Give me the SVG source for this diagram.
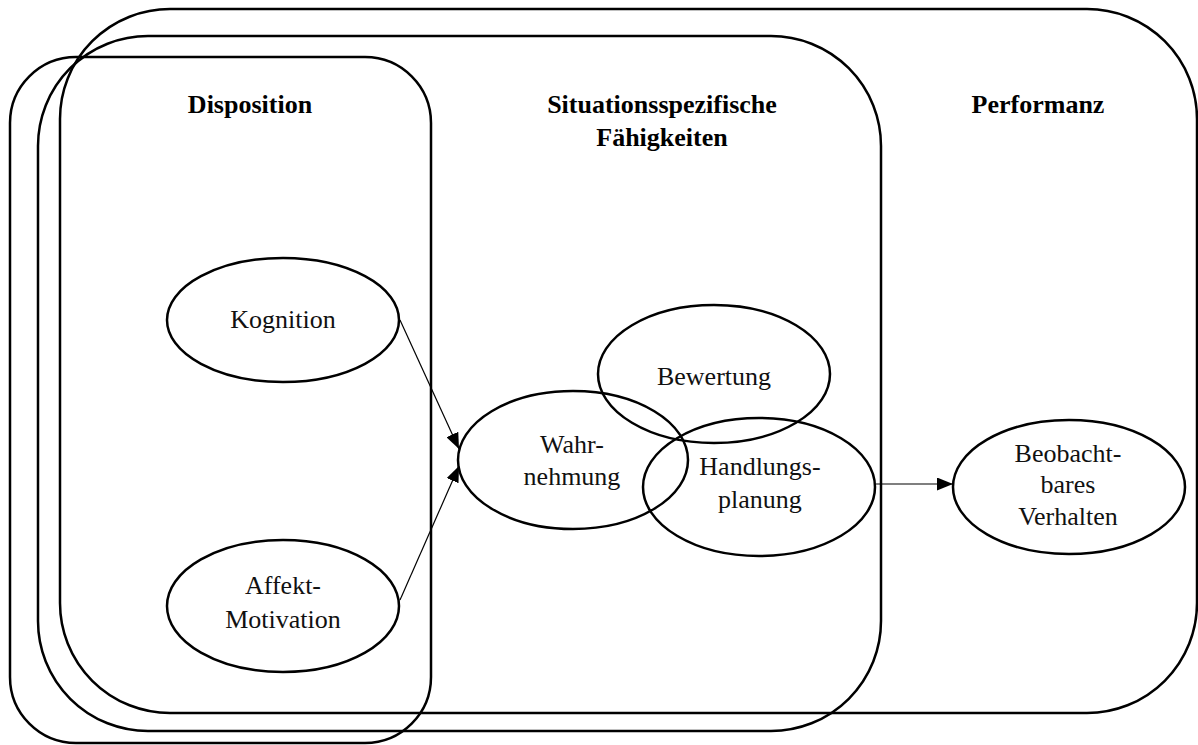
<svg xmlns="http://www.w3.org/2000/svg" width="1198" height="745" viewBox="0 0 1198 745">
<style>
.box{fill:none;stroke:#000;stroke-width:2.5}
.ell{fill:none;stroke:#000;stroke-width:2.5}
.t{font-family:"Liberation Serif","Times New Roman",serif;font-size:26px;fill:#111;text-anchor:middle}
.h{font-family:"Liberation Serif","Times New Roman",serif;font-size:26px;font-weight:bold;fill:#000;text-anchor:middle}
.c{fill:none;stroke:#000;stroke-width:1.2}
</style>
<defs>
<marker id="ah" viewBox="0 0 10 10" refX="10" refY="5" markerWidth="16" markerHeight="13" markerUnits="userSpaceOnUse" orient="auto" preserveAspectRatio="none">
<path d="M0,0 L10,5 L0,10 z" fill="#000"/>
</marker>
</defs>
<rect width="1198" height="745" fill="#fff"/>
<g id="performanz">
<rect class="box" x="60" y="9" width="1137" height="704" rx="110" ry="110"/>
<text class="h" x="1038" y="113">Performanz</text>
</g>
<g id="situation">
<rect class="box" x="38" y="36" width="843" height="695" rx="110" ry="110"/>
<text class="h" x="662" y="113">Situationsspezifische</text>
<text class="h" x="662" y="146">Fähigkeiten</text>
</g>
<g id="disposition">
<rect class="box" x="10" y="57" width="421" height="686" rx="66" ry="66"/>
<text class="h" x="250" y="113">Disposition</text>
</g>
<g id="kognition">
<ellipse class="ell" cx="283" cy="320" rx="116" ry="62"/>
<text class="t" x="283" y="328">Kognition</text>
</g>
<g id="affekt">
<ellipse class="ell" cx="283" cy="606" rx="116" ry="66"/>
<text class="t" x="283" y="594">Affekt-</text>
<text class="t" x="283" y="628">Motivation</text>
</g>
<g id="bewertung">
<ellipse class="ell" cx="714" cy="374" rx="116" ry="69"/>
<text class="t" x="714" y="385">Bewertung</text>
</g>
<g id="wahrnehmung">
<ellipse class="ell" cx="573" cy="460" rx="115" ry="69"/>
<text class="t" x="572" y="453">Wahr-</text>
<text class="t" x="572" y="485">nehmung</text>
</g>
<g id="handlungsplanung">
<ellipse class="ell" cx="759" cy="487" rx="116" ry="69"/>
<text class="t" x="760" y="475">Handlungs-</text>
<text class="t" x="760" y="508">planung</text>
</g>
<g id="verhalten">
<ellipse class="ell" cx="1069" cy="487" rx="116" ry="67"/>
<text class="t" x="1068" y="462">Beobacht-</text>
<text class="t" x="1068" y="493">bares</text>
<text class="t" x="1068" y="525">Verhalten</text>
</g>
<g id="connectors">
<line class="c" x1="400" y1="320" x2="459" y2="449" marker-end="url(#ah)"/>
<line class="c" x1="400" y1="600" x2="459" y2="466" marker-end="url(#ah)"/>
<line class="c" x1="876" y1="484" x2="953" y2="484" marker-end="url(#ah)"/>
</g>
</svg>
